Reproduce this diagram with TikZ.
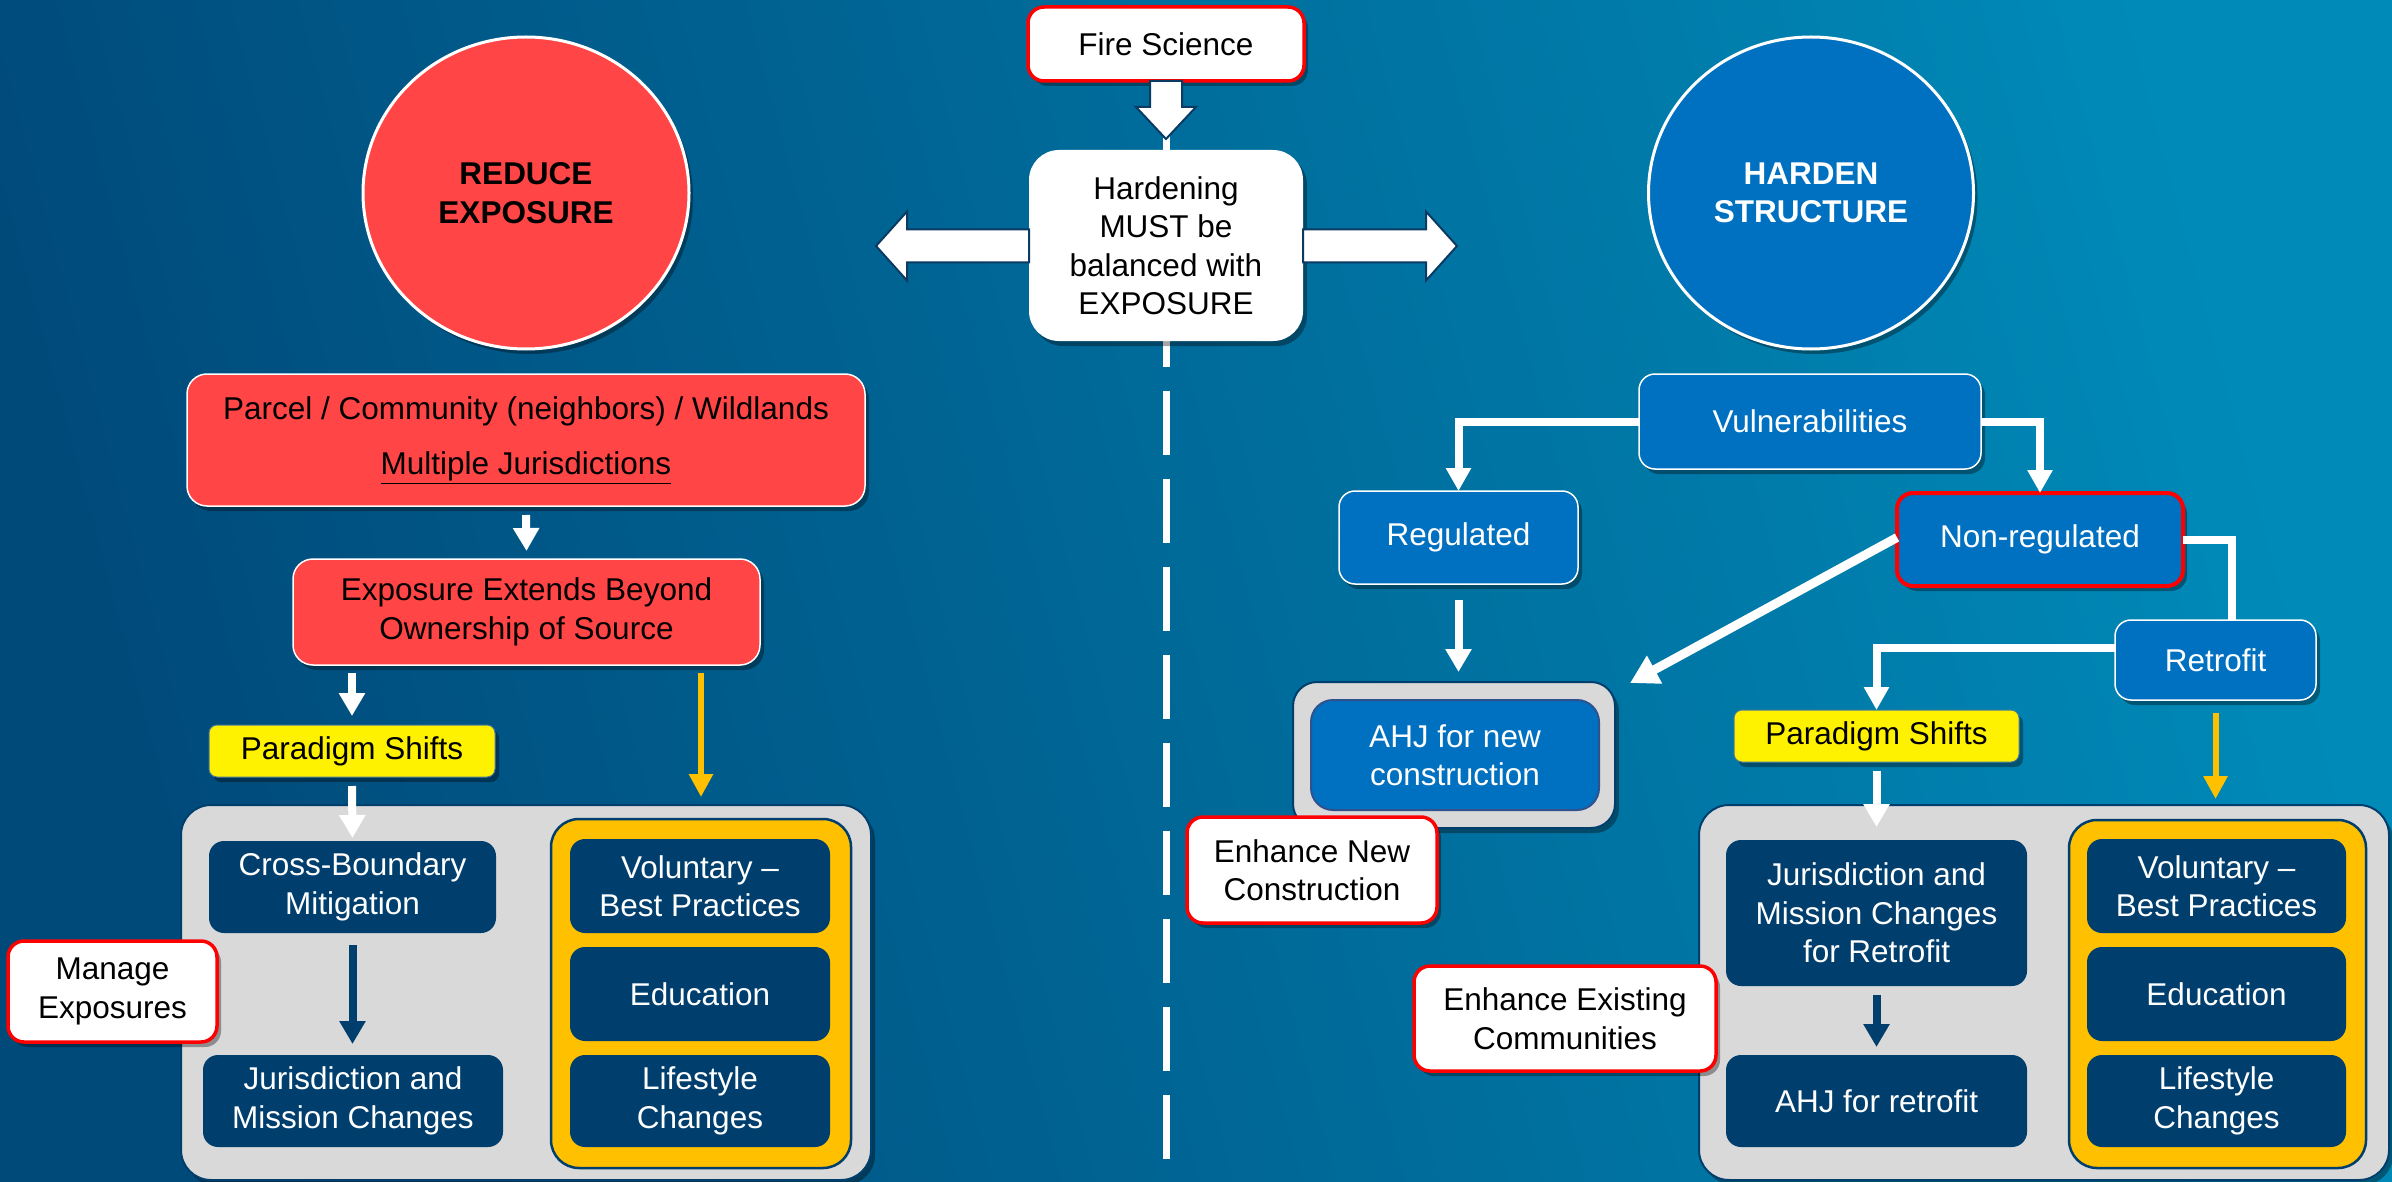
\documentclass[tikz,border=0pt]{standalone}
\usepackage{fontspec}
\setmainfont{Liberation Sans}
\usetikzlibrary{arrows.meta,shapes.geometric,shadows,calc}

\definecolor{bgdark}{HTML}{004A7A}
\definecolor{bglight}{HTML}{008AB8}
\definecolor{navy}{HTML}{003F6D}
\definecolor{pptblue}{HTML}{0070C0}
\definecolor{pptred}{HTML}{FF4545}
\definecolor{alertred}{HTML}{FF0000}
\definecolor{amber}{HTML}{FFC000}
\definecolor{panelgray}{HTML}{D9D9D9}
\definecolor{edgeblue}{HTML}{2F528F}
\definecolor{arrowedge}{HTML}{0B3A63}

\begin{document}
\begin{tikzpicture}[x=1pt,y=-1pt,
  every node/.style={inner sep=0pt, outer sep=0pt, align=center,
    font=\fontsize{31.5}{38.5}\selectfont},
  sz/.style 2 args={minimum width=#1, minimum height=#2},
  soft/.style={drop shadow={shadow xshift=4pt,shadow yshift=-5pt,opacity=0.35,fill=black}},
  callout/.style={rectangle, rounded corners=16pt, fill=white, draw=alertred, line width=3.5pt, text=black, soft},
  bluebox/.style={rectangle, rounded corners=16pt, fill=pptblue, draw=white, line width=1.5pt, text=white, soft},
  navybox/.style={rectangle, rounded corners=15pt, fill=navy, text=white},
  redbox/.style={rectangle, rounded corners=20pt, fill=pptred, draw=white, line width=1.5pt, text=black, soft},
  yellowbox/.style={rectangle, rounded corners=8pt, fill=yellow, draw=navy!70, line width=1pt, text=black, soft},
  panel/.style={rectangle, rounded corners=30pt, fill=panelgray, draw=navy, line width=2pt, soft},
  amberpanel/.style={rectangle, rounded corners=28pt, fill=amber, draw=navy, line width=2.5pt},
  disc/.style={ellipse, line width=3pt, draw=white, font=\fontsize{31.5}{38.5}\selectfont\bfseries, soft},
  conn/.style={draw=white, line width=8pt, -{Triangle[width=24pt,length=23pt]}},
  plainline/.style={draw=white, line width=8pt},
  warrow/.style={draw=white, line width=8pt, -{Triangle[width=25pt,length=23pt]}},
  oarrow/.style={draw=amber, line width=6pt, -{Triangle[width=23pt,length=23pt]}},
  narrow/.style={draw=navy, line width=8pt, -{Triangle[width=25pt,length=23pt]}},
  blockarrow/.style={fill=white, draw=arrowedge, line width=2pt, line join=miter}
]

% background
\useasboundingbox (0,0) rectangle (2392,1182);
\shade[top color=bgdark, bottom color=bglight, shading angle=105] (0,0) rectangle (2392,1182);

% central divider
\coordinate (divtop) at (1166,39);
\coordinate (divbot) at (1166,1182);
\draw[white, line width=7pt, dash pattern=on 64pt off 24pt] (divtop) -- (divbot);

% centre column
\node[callout, sz={276}{74}] (fire) at (1166,44) {Fire Science};
\node[rectangle, rounded corners=30pt, fill=white, text=black, sz={274}{191}, soft] (hard) at (1166,245.5)
  {Hardening\\MUST be\\balanced with\\EXPOSURE};

\filldraw[blockarrow] ($(fire.south)+(-16,0)$) -- ++(0,26) -- ++(-14,0) -- ++(30,32) -- ++(30,-32)
  -- ++(-14,0) -- ++(0,-26) -- cycle;
\filldraw[blockarrow] ($(hard.west)+(0,-16)$) -- ++(-122,0) -- ++(0,-18) -- ++(-31,34.5)
  -- ++(31,34.5) -- ++(0,-18) -- ++(122,0) -- cycle;
\filldraw[blockarrow] ($(hard.east)+(0,-16)$) -- ++(123,0) -- ++(0,-18) -- ++(31,34.5)
  -- ++(-31,34.5) -- ++(0,-18) -- ++(-123,0) -- cycle;

% left half: exposure
\node[disc, fill=pptred, text=black, sz={326}{312}] (reduce) at (526,193) {REDUCE\\EXPOSURE};
\node[redbox, sz={678}{132}] (parcel) at (526,440)
  {Parcel / Community (neighbors) / Wildlands\\[17pt]\underline{Multiple Jurisdictions}};
\node[redbox, sz={467}{106}] (expo) at (526.5,612) {Exposure Extends Beyond\\Ownership of Source};
\node[yellowbox, sz={286}{52}] (par1) at (352,751) {Paradigm Shifts};

\node[panel, sz={690}{375}] (gray1) at (526,992.5) {};
\node[amberpanel, sz={300}{349}] (orange1) at (701,993.5) {};
\node[navybox, sz={287}{92}] (cross) at (352.5,887) {Cross-Boundary\\Mitigation};
\node[navybox, sz={300}{92}] (jur1) at (353,1101) {Jurisdiction and\\Mission Changes};
\node[navybox, sz={260}{94}] (vol1) at (700,886) {Voluntary --\\Best Practices};
\node[navybox, sz={260}{94}] (edu1) at (700,994) {Education};
\node[navybox, sz={260}{92}] (life1) at (700,1101) {Lifestyle\\Changes};
\node[callout, sz={209}{101}] (manage) at (112.5,991.5) {Manage\\Exposures};

\draw[warrow] ($(parcel.south)+(0,9)$) -- ($(expo.north)+(0,-8)$);
\draw[warrow] ($(expo.south -| par1.north)+(0,8)$) -- ($(par1.north)+(0,-9)$);
\draw[oarrow] ($(expo.south -| orange1.north)+(0,8)$) -- ($(orange1.north)+(0,-22)$);
\draw[warrow] ($(par1.south)+(0,9)$) -- ($(cross.north)+(0,-3)$);
\draw[narrow] ($(cross.south)+(0,12)$) -- ($(jur1.north -| cross.south)+(0,-11)$);

% right half: structure
\node[disc, fill=pptblue, text=white, sz={325}{312}] (harden) at (1811,193) {HARDEN\\STRUCTURE};
\node[bluebox, sz={342}{95}] (vuln) at (1810,421.5) {Vulnerabilities};
\node[bluebox, sz={239}{93}] (reg) at (1458.5,537.5) {Regulated};
\node[bluebox, draw=alertred, line width=4pt, sz={286}{93}] (nonreg) at (2040,539.5) {Non-regulated};
\node[bluebox, sz={201}{80}] (retro) at (2215.5,660) {Retrofit};

\node[panel, rounded corners=24pt, sz={322}{146}] (ahjcont) at (1454,755) {};
\node[rectangle, rounded corners=22pt, fill=pptblue, draw=edgeblue, line width=2pt, text=white, sz={288}{110}]
  (ahjnew) at (1455,755) {AHJ for new\\construction};
\node[callout, sz={250}{106}] (enhnew) at (1312,870) {Enhance New\\Construction};

\node[yellowbox, sz={285}{52}] (par2) at (1876.5,736) {Paradigm Shifts};
\node[panel, sz={690}{375}] (gray2) at (2044,992.5) {};
\node[amberpanel, sz={297}{348}] (orange2) at (2217.5,994) {};
\node[navybox, sz={301}{146}] (jur2) at (1876.5,913) {Jurisdiction and\\Mission Changes\\for Retrofit};
\node[navybox, sz={301}{92}] (ahjret) at (1876.5,1101) {AHJ for retrofit};
\node[navybox, sz={259}{94}] (vol2) at (2216.5,886) {Voluntary --\\Best Practices};
\node[navybox, sz={259}{94}] (edu2) at (2216.5,994) {Education};
\node[navybox, sz={259}{92}] (life2) at (2216.5,1101) {Lifestyle\\Changes};
\node[callout, sz={302}{105}] (enhex) at (1565,1018.5) {Enhance Existing\\Communities};

\draw[conn] (vuln.west) -| (reg.north);
\draw[conn] (vuln.east) -| (nonreg.north);
\draw[plainline] (nonreg.east) -| ($(retro.north)+(16,0)$);
\draw[conn] ($(retro.west)+(0,-12)$) -| (par2.north);
\draw[conn, line width=9pt, -{Triangle[width=30pt,length=28pt]}] ($(nonreg.west)+(0,-2)$) -- ($(ahjcont.north east)+(15,1)$);
\draw[warrow] ($(reg.south)+(0,16)$) -- ($(ahjcont.north -| reg.south)+(0,-10)$);
\draw[oarrow] ($(retro.south)+(0,13)$) -- ($(orange2.north -| retro.south)+(0,-21)$);
\draw[warrow] ($(par2.south)+(0,9)$) -- ($(jur2.north)+(0,-13)$);
\draw[narrow] ($(jur2.south)+(0,9)$) -- ($(ahjret.north)+(0,-8)$);

\end{tikzpicture}
\end{document}
